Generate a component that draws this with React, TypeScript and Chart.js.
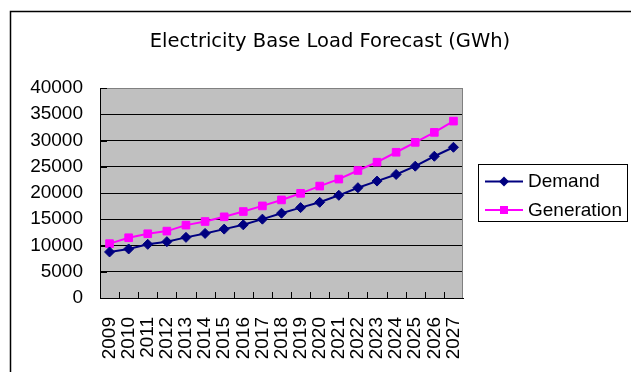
import React, { useEffect, useRef } from "react";
import { Chart, registerables } from "chart.js";

Chart.register(...registerables);

// Forecast years and the two series (GWh)
const years = [
  "2009", "2010", "2011", "2012", "2013", "2014", "2015", "2016", "2017", "2018",
  "2019", "2020", "2021", "2022", "2023", "2024", "2025", "2026", "2027",
];
const demand = [
  8770, 9340, 10220, 10730, 11550, 12300, 13120, 13940, 15020, 16150,
  17220, 18230, 19560, 21010, 22270, 23530, 25110, 27000, 28710,
];
const generation = [
  10350, 11480, 12240, 12740, 13880, 14570, 15460, 16470, 17540, 18680,
  19940, 21320, 22650, 24290, 25870, 27760, 29650, 31550, 33690,
];
const yMin = 0;
const yMax = 40000;
const yStep = 5000;
const chartTitle = "Electricity Base Load Forecast (GWh)";

const NAVY = "#000080";
const MAGENTA = "#FF00FF";
const PLOT_BG = "#C0C0C0";
const LABEL_FONT = "Liberation Sans, Arial, sans-serif";

// Outer frame, plot background, title and legend box
const decorPlugin = {
  id: "decor",
  beforeDraw(chart: any) {
    const { ctx, chartArea: a, width, height } = chart;
    ctx.save();
    ctx.fillStyle = "#fff";
    ctx.fillRect(0, 0, width, height);
    ctx.strokeStyle = "#000";
    ctx.lineWidth = 1.5;
    ctx.beginPath();
    ctx.moveTo(10.5, height + 5);
    ctx.lineTo(10.5, 11.5);
    ctx.lineTo(width + 5, 11.5);
    ctx.stroke();
    ctx.fillStyle = PLOT_BG;
    ctx.fillRect(a.left, a.top, a.right - a.left, a.bottom - a.top);
    ctx.restore();
  },
  beforeDatasetsDraw(chart: any) {
    const { ctx, chartArea: a } = chart;
    ctx.save();
    // plot area border (top and right)
    ctx.strokeStyle = "#808080";
    ctx.lineWidth = 1;
    ctx.beginPath();
    ctx.moveTo(a.left, a.top + 0.5);
    ctx.lineTo(a.right - 0.5, a.top + 0.5);
    ctx.lineTo(a.right - 0.5, a.bottom);
    ctx.stroke();
    // inside tick marks
    ctx.strokeStyle = "#000";
    ctx.beginPath();
    const n = years.length;
    const w = (a.right - a.left) / n;
    for (let i = 1; i < n; i++) {
      const x = Math.round(a.left + i * w) + 0.5;
      ctx.moveTo(x, a.bottom);
      ctx.lineTo(x, a.bottom - 6);
    }
    const yScale = chart.scales.y;
    for (let v = yMin; v <= yMax; v += yStep) {
      const y = Math.round(yScale.getPixelForValue(v)) + 0.5;
      ctx.moveTo(a.left, y);
      ctx.lineTo(a.left + 7, y);
    }
    ctx.stroke();
    ctx.restore();
  },
  afterDraw(chart: any) {
    const { ctx } = chart;
    ctx.save();
    // title
    ctx.fillStyle = "#000";
    ctx.font = "19.5px 'DejaVu Sans', sans-serif";
    ctx.textAlign = "center";
    ctx.textBaseline = "alphabetic";
    ctx.fillText(chartTitle, 330, 46.5);

    // legend
    const box = { x: 478.5, y: 164.5, w: 149, h: 57 };
    ctx.fillStyle = "#fff";
    ctx.fillRect(box.x, box.y, box.w, box.h);
    ctx.strokeStyle = "#000";
    ctx.lineWidth = 1;
    ctx.strokeRect(box.x, box.y, box.w, box.h);
    const rows = [181.5, 210];
    chart.data.datasets.forEach((ds: any, i: number) => {
      const y = rows[i];
      ctx.strokeStyle = ds.borderColor;
      ctx.lineWidth = ds.borderWidth;
      ctx.beginPath();
      ctx.moveTo(485, y);
      ctx.lineTo(523, y);
      ctx.stroke();
      ctx.fillStyle = ds.pointBackgroundColor;
      const cx = 504;
      if (ds.pointStyle === "rectRot") {
        ctx.beginPath();
        ctx.moveTo(cx, y - 5);
        ctx.lineTo(cx + 5, y);
        ctx.lineTo(cx, y + 5);
        ctx.lineTo(cx - 5, y);
        ctx.closePath();
        ctx.fill();
      } else {
        ctx.fillRect(cx - 4, y - 4, 8, 8);
      }
      ctx.fillStyle = "#000";
      ctx.font = `19px ${LABEL_FONT}`;
      ctx.textAlign = "left";
      ctx.textBaseline = "middle";
      ctx.fillText(ds.label, 528, y + 0.5);
    });
    ctx.restore();
  },
};

function ForecastChart() {
  const ref = useRef<HTMLCanvasElement>(null);

  useEffect(() => {
    if (!ref.current) return;
    const chart = new Chart(ref.current, {
      type: "line",
      data: {
        labels: years,
        datasets: [
          {
            label: "Demand",
            data: demand,
            borderColor: NAVY,
            backgroundColor: NAVY,
            pointBackgroundColor: NAVY,
            pointBorderColor: NAVY,
            borderWidth: 2,
            pointStyle: "rectRot",
            pointRadius: 5,
            pointBorderWidth: 1,
            tension: 0,
          },
          {
            label: "Generation",
            data: generation,
            borderColor: MAGENTA,
            backgroundColor: MAGENTA,
            pointBackgroundColor: MAGENTA,
            pointBorderColor: MAGENTA,
            borderWidth: 2,
            pointStyle: "rect",
            pointRadius: 5.4,
            pointBorderWidth: 1,
            tension: 0,
          },
        ],
      },
      options: {
        animation: false,
        responsive: false,
        devicePixelRatio: 1,
        layout: { padding: { top: 88, right: 168, left: 0, bottom: 0 } },
        plugins: {
          legend: { display: false },
          title: { display: false },
          tooltip: { enabled: false },
        },
        scales: {
          x: {
            type: "category",
            offset: true,
            afterFit(scale: any) {
              scale.height = 74;
            },
            grid: { display: false, drawTicks: false },
            border: { display: true, color: "#000", width: 1 },
            ticks: {
              autoSkip: false,
              minRotation: 90,
              maxRotation: 90,
              padding: 19,
              color: "#000",
              font: { family: LABEL_FONT, size: 19 },
            },
          },
          y: {
            min: yMin,
            max: yMax,
            afterFit(scale: any) {
              scale.width = 100;
            },
            grid: {
              drawTicks: false,
              color: (c: any) => (c.tick && c.tick.value === yMax ? "#808080" : "#000"),
              lineWidth: 1,
            },
            border: { display: true, color: "#000", width: 1 },
            ticks: {
              stepSize: yStep,
              padding: 17,
              color: "#000",
              font: { family: LABEL_FONT, size: 19 },
              callback: (v: any) => String(v),
            },
          },
        },
      },
      plugins: [decorPlugin],
    });
    return () => chart.destroy();
  }, []);

  return <canvas ref={ref} width={631} height={372} style={{ display: "block" }} />;
}

export default function App() {
  return (
    <div style={{ position: "fixed", left: 0, top: 0, width: 631, height: 372, background: "#fff" }}>
      <ForecastChart />
    </div>
  );
}
